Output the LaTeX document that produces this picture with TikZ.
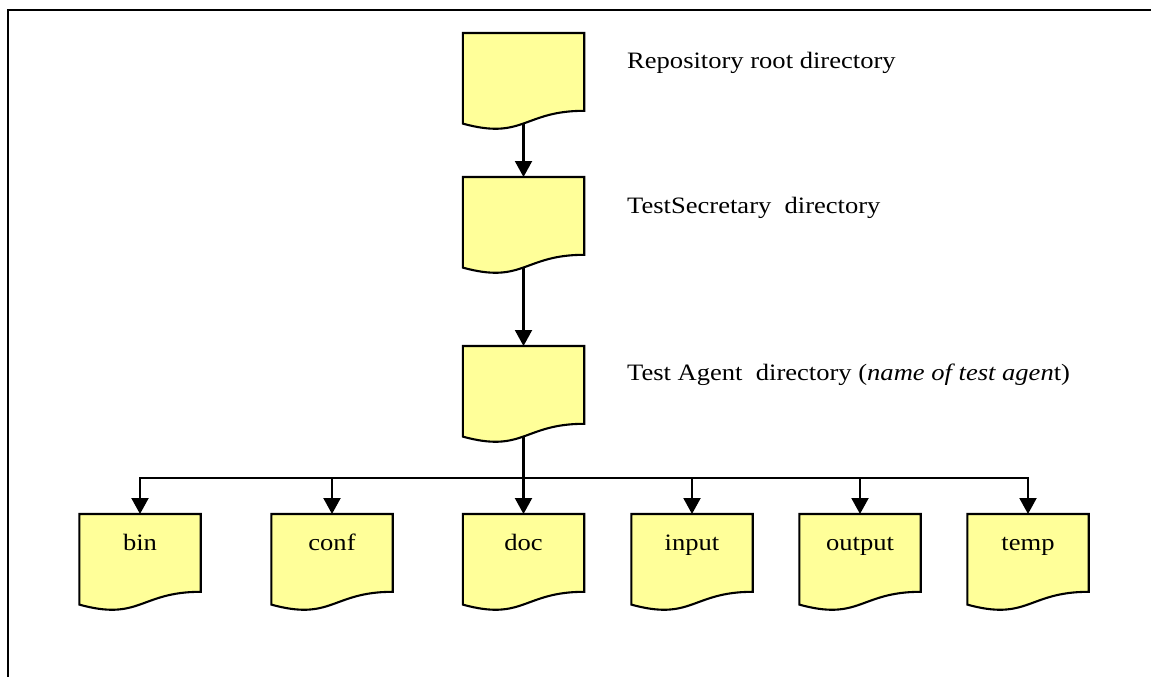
\documentclass[tikz,border=0pt]{standalone}
\usepackage{fontspec}
\setmainfont{Liberation Serif}[FakeStretch=1.13]
\usetikzlibrary{arrows.meta}
\definecolor{docyellow}{HTML}{FFFF99}
\tikzset{
  docnode/.style={draw=none, minimum width=121pt, minimum height=90.5pt, inner sep=0pt, anchor=north},
  docshape/.style={draw=black, fill=docyellow, line width=2.1pt, line join=miter},
  lbl/.style={font=\fontsize{23.5pt}{28pt}\selectfont, inner sep=0pt},
  conn/.style={line width=2.1pt, -{Triangle[length=16pt,width=17pt]}},
  plain/.style={line width=2.1pt},
  frame/.style={line width=2.6pt}
}
\begin{document}
\begin{tikzpicture}[x=1pt,y=-1pt]
\useasboundingbox (0,0) rectangle (1151,677);
\draw[frame] (8,678) -- (8,10) -- (1152,10);
% document nodes
\node[docnode] (root) at (523.5,33) {};
\node[docnode] (ts) at (523.5,177) {};
\node[docnode] (ta) at (523.5,346) {};
\node[docnode] (bin) at (140,514) {};
\node[docnode] (conf) at (332,514) {};
\node[docnode] (doc) at (523.5,514) {};
\node[docnode] (input) at (692,514) {};
\node[docnode] (output) at (860,514) {};
\node[docnode] (temp) at (1028,514) {};
\foreach \n in {root,ts,ta,bin,conf,doc,input,output,temp}{
  \draw[docshape] (\n.north west) -- (\n.north east) -- ([yshift=-77.8pt]\n.north east)
    .. controls ([yshift=-77.8pt]\n.north) and ([yshift=-107.4pt]\n.north) .. ([yshift=-90.6pt]\n.north west) -- cycle;
}
% labels
\node[lbl, anchor=base west] (rootT) at (627,69) {Repository root directory};
\node[lbl, anchor=base west] (tsT) at (627,213) {TestSecretary\ \ directory};
\node[lbl, anchor=base west] (taT) at (627,380) {Test Agent\ \ directory (\textit{name of test agen}t)};
\foreach \n in {bin,conf,doc,input,output,temp}{
  \node[lbl, anchor=base] (\n T) at ([yshift=-36pt]\n.north) {\n};
}
% connectors
\draw[conn] (root.south) -- (ts.north);
\draw[conn] (ts.south) -- (ta.north);
\coordinate (j) at (523.5,478);
\draw[plain] (ta.south) -- (j);
\draw[conn] (j) -- (doc.north);
\foreach \n in {bin,conf,input,output,temp}{
  \draw[conn] (j) -| (\n.north);
}
\end{tikzpicture}
\end{document}
